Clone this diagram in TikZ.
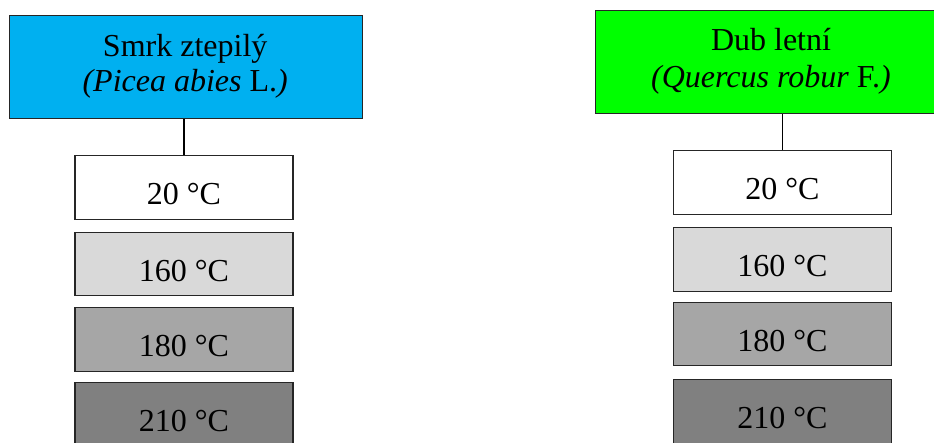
\documentclass[tikz,border=0pt]{standalone}
\usepackage{fontspec}
\setmainfont{Liberation Serif}
\definecolor{spruce}{HTML}{00B0F0}
\definecolor{oak}{HTML}{00FF00}
\definecolor{g160}{HTML}{D9D9D9}
\definecolor{g180}{HTML}{A6A6A6}
\definecolor{g210}{HTML}{808080}
\begin{document}
\begin{tikzpicture}[x=1pt,y=-1pt,
  headbox/.style={draw=black!85,line width=1.1pt,anchor=north west,inner sep=0pt},
  tempbox/.style={draw=black!85,line width=1.1pt,anchor=north,inner sep=0pt,minimum width=218pt,
    text height=49pt,text depth=14.5pt,font=\fontsize{32}{36}\selectfont},
  headtxt/.style={anchor=base,inner sep=0pt,font=\fontsize{32}{36}\selectfont},
  link/.style={draw=black,line width=1.1pt}]
\useasboundingbox (0,0) rectangle (934,442);
\clip (0,0) rectangle (934,442);
% left column
\node[headbox,fill=spruce,minimum width=353pt,minimum height=103pt] (ltop) at (8.7,15) {};
\node[headtxt] (lt1) at (185.2,56.7) {Smrk ztepilý};
\node[headtxt] (lt2) at (185.2,91.7) {\textit{(Picea abies} L.\textit{)}};
\node[tempbox,fill=white] (l20) at (184,155) {20 °C};
\node[tempbox,fill=g160] (l160) at (184,231.7) {160 °C};
\node[tempbox,fill=g180] (l180) at (184,307.3) {180 °C};
\node[tempbox,fill=g210] (l210) at (184,381.7) {210 °C};
\draw[link] (l20.north |- ltop.south) -- (l20.north);
% right column
\node[headbox,fill=oak,minimum width=352pt,minimum height=103.3pt] (rtop) at (595,10) {};
\node[headtxt] (rt1) at (771,50) {Dub letní};
\node[headtxt] (rt2) at (771,87.3) {\textit{(Quercus robur} F.\textit{)}};
\node[tempbox,fill=white] (r20) at (782.5,150) {20 °C};
\node[tempbox,fill=g160] (r160) at (782.5,227.3) {160 °C};
\node[tempbox,fill=g180] (r180) at (782.5,301.7) {180 °C};
\node[tempbox,fill=g210] (r210) at (782.5,379) {210 °C};
\draw[link] (r20.north |- rtop.south) -- (r20.north);
\end{tikzpicture}
\end{document}
